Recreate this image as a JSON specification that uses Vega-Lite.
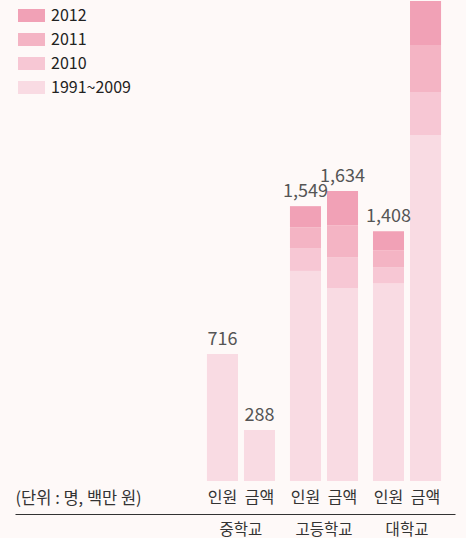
{
  "$schema": "https://vega.github.io/schema/vega-lite/v6.json",
  "width": 440,
  "height": 481,
  "padding": {"left": 15, "top": 0, "right": 11, "bottom": 0},
  "background": "#fef9f8",
  "config": {"view": {"stroke": null}, "font": "Noto Sans CJK KR"},
  "datasets": {
    "bars": [
      {"group": "중학교", "type": "인원", "period": "1991~2009", "value": 716},
      {"group": "중학교", "type": "금액", "period": "1991~2009", "value": 288},
      {"group": "고등학교", "type": "인원", "period": "1991~2009", "value": 1184},
      {"group": "고등학교", "type": "인원", "period": "2010", "value": 126},
      {"group": "고등학교", "type": "인원", "period": "2011", "value": 120},
      {"group": "고등학교", "type": "인원", "period": "2012", "value": 119},
      {"group": "고등학교", "type": "금액", "period": "1991~2009", "value": 1088},
      {"group": "고등학교", "type": "금액", "period": "2010", "value": 171},
      {"group": "고등학교", "type": "금액", "period": "2011", "value": 182},
      {"group": "고등학교", "type": "금액", "period": "2012", "value": 193},
      {"group": "대학교", "type": "인원", "period": "1991~2009", "value": 1113},
      {"group": "대학교", "type": "인원", "period": "2010", "value": 91},
      {"group": "대학교", "type": "인원", "period": "2011", "value": 97},
      {"group": "대학교", "type": "인원", "period": "2012", "value": 107},
      {"group": "대학교", "type": "금액", "period": "1991~2009", "value": 1950},
      {"group": "대학교", "type": "금액", "period": "2010", "value": 242},
      {"group": "대학교", "type": "금액", "period": "2011", "value": 265},
      {"group": "대학교", "type": "금액", "period": "2012", "value": 248}
    ],
    "totals": [
      {"group": "중학교", "type": "인원", "total": 716},
      {"group": "중학교", "type": "금액", "total": 288},
      {"group": "고등학교", "type": "인원", "total": 1549},
      {"group": "고등학교", "type": "금액", "total": 1634},
      {"group": "대학교", "type": "인원", "total": 1408}
    ],
    "labels": [
      {"group": "중학교", "type": "인원"},
      {"group": "중학교", "type": "금액"},
      {"group": "고등학교", "type": "인원"},
      {"group": "고등학교", "type": "금액"},
      {"group": "대학교", "type": "인원"},
      {"group": "대학교", "type": "금액"}
    ]
  },
  "layer": [
    {
      "data": {"name": "bars"},
      "mark": {"type": "bar"},
      "encoding": {
        "x": {
          "field": "group", "type": "nominal",
          "scale": {"domain": [" ", "  ", "중학교", "고등학교", "대학교"], "paddingInner": 0.18, "paddingOuter": 0.24, "align": 0.65},
          "axis": {
            "offset": 33, "domainColor": "#333333", "domainWidth": 1, "ticks": false,
            "labelPadding": 15, "labelFontSize": 15.5, "labelColor": "#333333", "labelAngle": 0,
            "labelBaseline": "middle",
            "title": "(단위 : 명, 백만 원)", "titleX": 0, "titleY": -16,
            "titleAlign": "left", "titleBaseline": "middle", "titleAnchor": null,
            "titleFontSize": 16.5, "titleFontWeight": "normal", "titleColor": "#333333"
          }
        },
        "xOffset": {
          "field": "type", "type": "nominal", "sort": ["인원", "금액"],
          "scale": {"paddingInner": 0.162, "paddingOuter": 0}
        },
        "y": {
          "field": "value", "type": "quantitative", "stack": "zero",
          "scale": {"domain": [0, 2711], "nice": false}, "axis": null
        },
        "color": {
          "field": "period", "type": "nominal",
          "scale": {
            "domain": ["2012", "2011", "2010", "1991~2009"],
            "range": ["#f1a1b6", "#f4b4c4", "#f7c7d4", "#f9dbe3"]
          },
          "legend": {
            "title": null, "orient": "none", "legendX": 3, "legendY": 2,
            "symbolType": "M-1,-0.48H1V0.48H-1Z", "symbolSize": 729,
            "symbolStrokeWidth": 0, "symbolOpacity": 1,
            "labelFontSize": 16, "labelColor": "#222222", "labelOffset": 6,
            "rowPadding": 2, "padding": 0
          }
        },
        "order": {"field": "period", "sort": "ascending"}
      }
    },
    {
      "data": {"name": "totals"},
      "mark": {"type": "text", "baseline": "bottom", "dy": -5, "fontSize": 18, "color": "#555555"},
      "encoding": {
        "x": {"field": "group", "type": "nominal"},
        "xOffset": {"field": "type", "type": "nominal", "sort": ["인원", "금액"]},
        "y": {"field": "total", "type": "quantitative"},
        "text": {"field": "total", "type": "quantitative", "format": ","}
      }
    },
    {
      "data": {"name": "labels"},
      "mark": {"type": "text", "baseline": "middle", "dy": 17, "fontSize": 16, "color": "#333333"},
      "encoding": {
        "x": {"field": "group", "type": "nominal"},
        "xOffset": {"field": "type", "type": "nominal", "sort": ["인원", "금액"]},
        "y": {"datum": 0, "type": "quantitative"},
        "text": {"field": "type", "type": "nominal"}
      }
    }
  ]
}
